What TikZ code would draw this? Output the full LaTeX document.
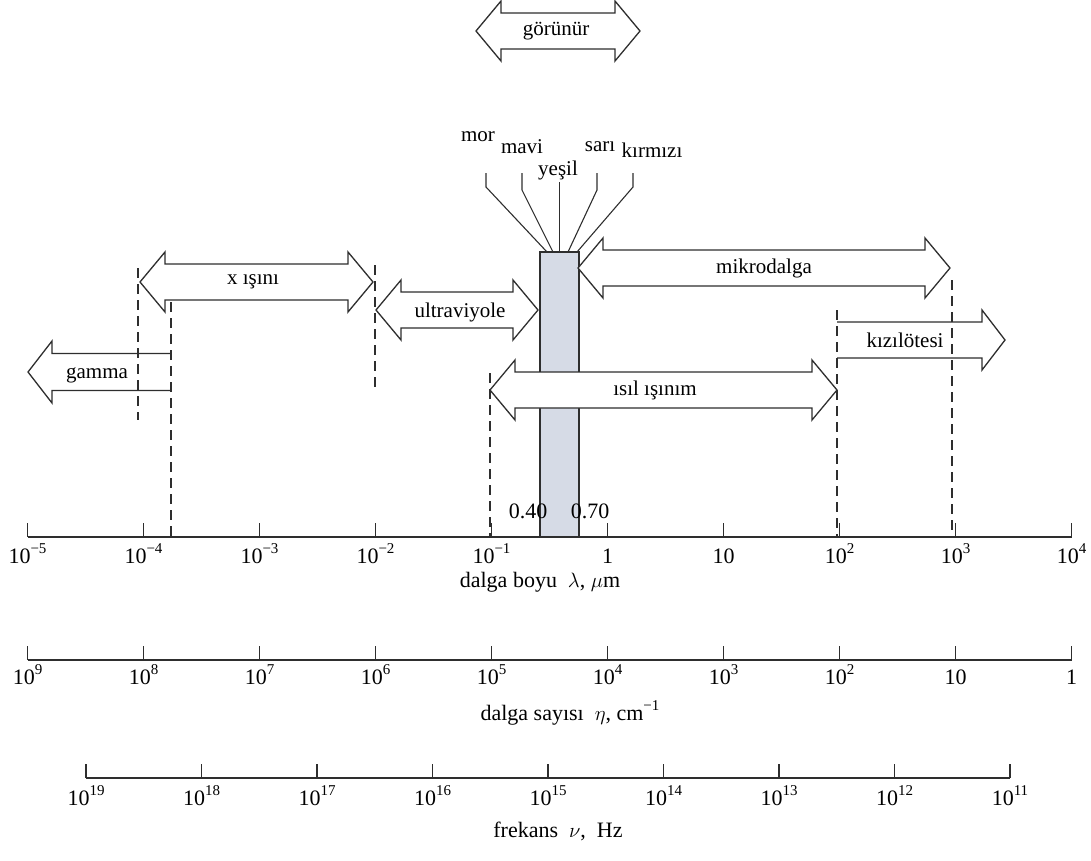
\documentclass[tikz,border=0pt]{standalone}
\usepackage{fontspec}
\setmainfont{Liberation Serif}
\definecolor{ink}{HTML}{2E2E2E}
\definecolor{bandfill}{HTML}{D6DBE6}
\newcommand{\blockdbl}[3]{% x1, x2, yc
  \filldraw[arrowline] (#1,#3) -- (#1+25,#3-30) -- (#1+25,#3-18) -- (#2-25,#3-18) -- (#2-25,#3-30) -- (#2,#3) -- (#2-25,#3+30) -- (#2-25,#3+18) -- (#1+25,#3+18) -- (#1+25,#3+30) -- cycle;}
\newcommand{\sps}[1]{\raisebox{0.45em}{\fontsize{15}{15}\selectfont #1}}
\begin{document}
\begin{tikzpicture}[x=1pt,y=-1pt,
  arrowline/.style={draw=ink,fill=white,line width=1.3pt,line join=miter},
  thinline/.style={draw=ink,line width=1.1pt},
  dashv/.style={draw=ink,line width=1.3pt,dash pattern=on 10pt off 6pt},
  axisline/.style={draw=ink,line width=1.3pt},
  lbl/.style={font=\fontsize{21}{25}\selectfont,text=black,inner sep=0pt},
  ttl/.style={font=\fontsize{22}{26}\selectfont,text=black,inner sep=0pt},
  num/.style={font=\fontsize{22}{26}\selectfont,text=black,inner sep=0pt,anchor=base}]
\useasboundingbox (0,0) rectangle (1091,860);

% visible band
\filldraw[fill=bandfill,draw=ink,line width=1.3pt] (540,537) -- (540,252) -- (579,252) -- (579,537);

% colour leader lines
\draw[thinline] (486,173) -- (486,187) -- (547,252);
\draw[thinline] (522,173) -- (522,190) -- (553,252);
\draw[thinline] (559.5,182) -- (559.5,252);
\draw[thinline] (597,173) -- (597,190) -- (568,252);
\draw[thinline] (633,173) -- (633,187) -- (577,252);
\node[lbl] (mor) at (478,137) {mor};
\node[lbl] (mavi) at (522,147) {mavi};
\node[lbl] (yesil) at (558,170) {yeşil};
\node[lbl] (sari) at (600,147) {sarı};
\node[lbl] (kirmizi) at (652,150) {kırmızı};

% block arrows
\blockdbl{476}{640}{31}
\node[lbl] (gorunur) at (556,31) {görünür};
\blockdbl{578}{950}{268}
\node[lbl] (mikro) at (764,268) {mikrodalga};
\blockdbl{140}{373}{282}
\node[lbl] (xray) at (253,282) {x ışını};
\blockdbl{376}{538}{310}
\node[lbl] (uv) at (460,312) {ultraviyole};
\blockdbl{490}{837}{390}
\node[lbl] (isil) at (655,390) {ısıl ışınım};
\filldraw[arrowline] (171,353.5) -- (52,353.5) -- (52,341) -- (28,372) -- (52,403) -- (52,390.5) -- (171,390.5);
\node[lbl] (gamma) at (97,375) {gamma};
\filldraw[arrowline] (837,322) -- (982,322) -- (982,310) -- (1005,340) -- (982,370) -- (982,358) -- (837,358);
\node[lbl] (ir) at (905,340) {kızılötesi};

% dashed guides
\draw[dashv] (138,268) -- (138,420);
\draw[dashv] (171,302) -- (171,537);
\draw[dashv] (375,265) -- (375,392);
\draw[dashv] (490,373) -- (490,537);
\draw[dashv] (837,310) -- (837,537);
\draw[dashv] (952,280) -- (952,537);

% wavelength axis
\draw[axisline] (27.5,537) -- (1071.5,537);
\foreach \i in {0,...,9} \draw[axisline] (27.5+116*\i,537) -- ++(0,-14);
\foreach \i/\t in {0/{10\sps{−5}},1/{10\sps{−4}},2/{10\sps{−3}},3/{10\sps{−2}},4/{10\sps{−1}},5/{1},6/{10},7/{10\sps{2}},8/{10\sps{3}},9/{10\sps{4}}}
  \node[num] (wl\i) at (27.5+116*\i,563) {\t};
\node[num] (v40) at (528,518) {0.40};
\node[num] (v70) at (590,518) {0.70};
\node[ttl] (wltitle) at (540,582) {dalga boyu\ \ $\lambda$, $\mu$m};

% wavenumber axis
\draw[axisline] (27.5,660) -- (1071.5,660);
\foreach \i in {0,...,9} \draw[axisline] (27.5+116*\i,660) -- ++(0,-14);
\foreach \i/\t in {0/{10\sps{9}},1/{10\sps{8}},2/{10\sps{7}},3/{10\sps{6}},4/{10\sps{5}},5/{10\sps{4}},6/{10\sps{3}},7/{10\sps{2}},8/{10},9/{1}}
  \node[num] (wn\i) at (27.5+116*\i,684) {\t};
\node[ttl] (wntitle) at (570,713) {dalga sayısı\ \ $\eta$, cm\sps{−1}};

% frequency axis
\draw[axisline] (86,778) -- (1010,778);
\foreach \i in {0,...,8} \draw[axisline] (86+115.5*\i,778) -- ++(0,-14);
\foreach \i/\t in {0/19,1/18,2/17,3/16,4/15,5/14,6/13,7/12,8/11}
  \node[num] (fr\i) at (86+115.5*\i,805) {10\sps{\t}};
\node[ttl] (frtitle) at (558,831) {frekans\ \ $\nu$,\ \ Hz};
\end{tikzpicture}
\end{document}
